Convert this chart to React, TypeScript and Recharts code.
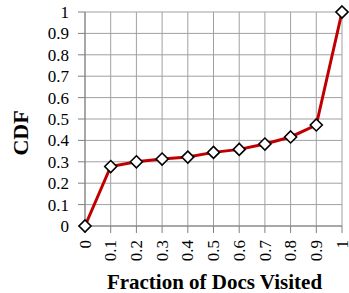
import { LineChart, Line, XAxis, YAxis, CartesianGrid } from 'recharts'

const fractions = [0, 0.1, 0.2, 0.3, 0.4, 0.5, 0.6, 0.7, 0.8, 0.9, 1]
const cdfValues = [0, 0.278, 0.3, 0.313, 0.322, 0.344, 0.358, 0.383, 0.416, 0.472, 1]
const yTicks = [0, 0.1, 0.2, 0.3, 0.4, 0.5, 0.6, 0.7, 0.8, 0.9, 1]

const data = fractions.map((f, i) => ({ fraction: f, cdf: cdfValues[i] }))

const serif = '"Liberation Serif", "Times New Roman", serif'

const Diamond = (props: any) => {
  const { cx, cy } = props
  if (cx == null || cy == null) return null
  const r = 6
  return (
    <polygon
      points={`${cx},${cy - r} ${cx + r},${cy} ${cx},${cy + r} ${cx - r},${cy}`}
      fill="#FFFFFF"
      stroke="#000000"
      strokeWidth={1.6}
    />
  )
}

const RotatedTick = (props: any) => {
  const { x, y, payload } = props
  return (
    <g transform={`translate(${x},${y})`}>
      <text
        transform="rotate(-90)"
        x={-4}
        y={0}
        dy="0.33em"
        textAnchor="end"
        fill="#000"
        fontSize={17}
        style={{ fontFamily: serif }}
      >
        {String(payload.value)}
      </text>
    </g>
  )
}

const YTick = (props: any) => {
  const { x, y, payload } = props
  return (
    <text
      x={x}
      y={y}
      dy="0.35em"
      textAnchor="end"
      fill="#000"
      fontSize={17}
      style={{ fontFamily: serif }}
    >
      {String(payload.value)}
    </text>
  )
}

const YTitle = (props: any) => {
  const { viewBox } = props
  const x = viewBox.x + 20
  const y = viewBox.y + viewBox.height / 2 + 14
  return (
    <text
      transform={`translate(${x},${y}) rotate(-90)`}
      textAnchor="middle"
      dy="0.35em"
      fontSize={22}
      fontWeight="bold"
      style={{ fontFamily: serif }}
      fill="#000"
    >
      CDF
    </text>
  )
}

const XTitle = (props: any) => {
  const { viewBox } = props
  const x = viewBox.x + viewBox.width / 2 + 1
  return (
    <text
      x={x}
      y={289}
      textAnchor="middle"
      fontSize={21}
      fontWeight="bold"
      style={{ fontFamily: serif }}
      fill="#000"
    >
      Fraction of Docs Visited
    </text>
  )
}

export default function App() {
  return (
    <div style={{ position: 'absolute', left: 0, top: 0, background: '#fff' }}>
      <LineChart width={349} height={293} data={data} margin={{ top: 12, right: 7, left: 0, bottom: 0 }}>
        <CartesianGrid stroke="#A0A0A0" strokeWidth={1} />
        <XAxis
          dataKey="fraction"
          type="number"
          domain={[0, 1]}
          ticks={fractions}
          interval={0}
          height={67}
          tickSize={7}
          tickMargin={3}
          stroke="#808080"
          tick={<RotatedTick />}
          label={<XTitle />}
        />
        <YAxis
          type="number"
          domain={[0, 1]}
          ticks={yTicks}
          interval={0}
          width={85}
          tickSize={7}
          tickMargin={9}
          stroke="#808080"
          tick={<YTick />}
          label={<YTitle />}
        />
        <Line
          dataKey="cdf"
          type="linear"
          stroke="#C00000"
          strokeWidth={3}
          dot={<Diamond />}
          activeDot={false}
          isAnimationActive={false}
        />
      </LineChart>
    </div>
  )
}
